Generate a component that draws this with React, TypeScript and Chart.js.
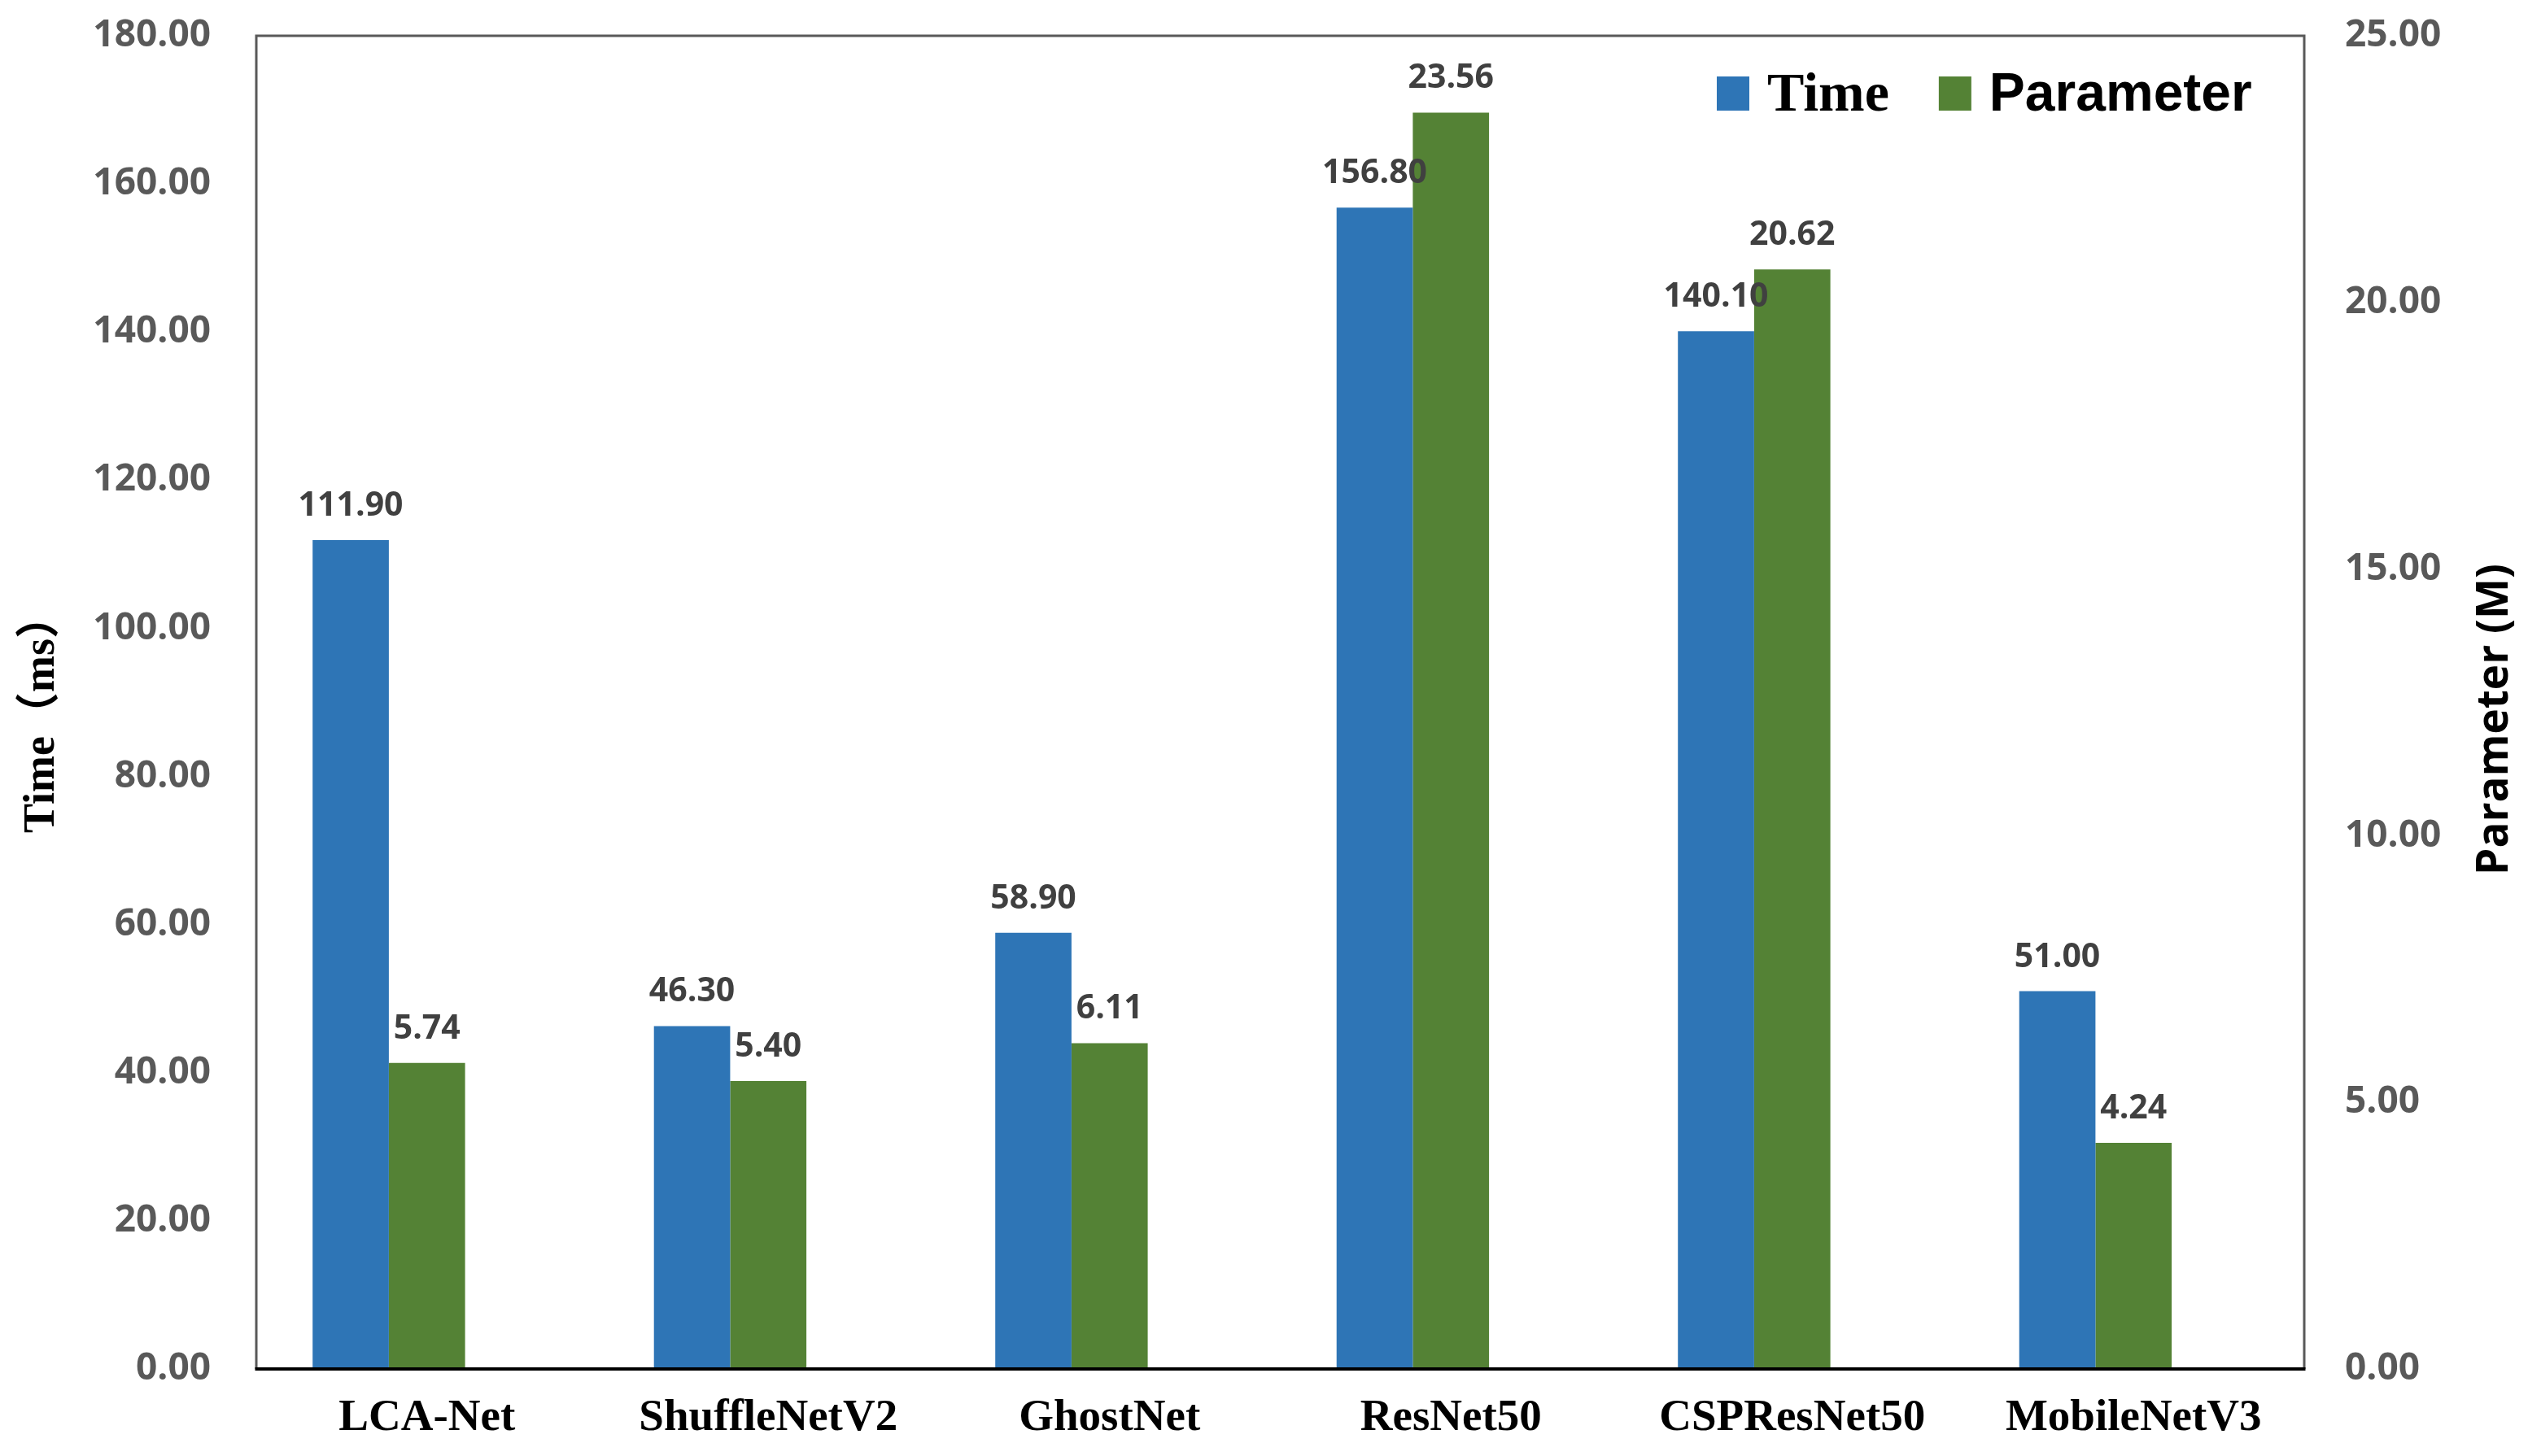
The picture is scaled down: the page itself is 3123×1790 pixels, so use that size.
import React, { useEffect, useRef } from 'react';
import { Chart, registerables } from 'chart.js';

Chart.register(...registerables);

const categories = ['LCA-Net', 'ShuffleNetV2', 'GhostNet', 'ResNet50', 'CSPResNet50', 'MobileNetV3'];
const timeValues = [111.9, 46.3, 58.9, 156.8, 140.1, 51.0];
const paramValues = [5.74, 5.4, 6.11, 23.56, 20.62, 4.24];
// the source chart reserves an empty third series slot in every group
const emptySeries = [null, null, null, null, null, null];
const seriesNames = ['Time', 'Parameter'];
const seriesColors = ['#2E75B6', '#548235'];
const timeAxisMax = 180;
const timeAxisStep = 20;
const paramAxisMax = 25;
const paramAxisStep = 5;
const leftTitle = 'Time（ms）';
const rightTitle = 'Parameter (M)';

const TICK_FONT = { family: '"Open Sans", "DejaVu Sans", sans-serif', size: 46, weight: 'bold' as const };
const LABEL_FONT = 'bold 41px "Open Sans", "DejaVu Sans", sans-serif';

export default function App() {
  const canvasRef = useRef<HTMLCanvasElement | null>(null);

  useEffect(() => {
    const canvas = canvasRef.current;
    if (!canvas) return;

    const frameAndLabels = {
      id: 'frameAndLabels',
      afterDatasetsDraw(chart: any) {
        const ctx = chart.ctx as CanvasRenderingContext2D;
        const { left, right, top, bottom } = chart.chartArea;
        ctx.save();
        // frame
        ctx.strokeStyle = '#595959';
        ctx.lineWidth = 3;
        ctx.beginPath();
        ctx.moveTo(left, bottom);
        ctx.lineTo(left, top);
        ctx.lineTo(right, top);
        ctx.lineTo(right, bottom);
        ctx.stroke();
        ctx.strokeStyle = '#000000';
        ctx.lineWidth = 4;
        ctx.beginPath();
        ctx.moveTo(left - 1.5, bottom);
        ctx.lineTo(right + 1.5, bottom);
        ctx.stroke();
        // data labels
        ctx.font = LABEL_FONT;
        ctx.fillStyle = '#404040';
        ctx.textAlign = 'center';
        ctx.textBaseline = 'alphabetic';
        chart.data.datasets.forEach((ds: any, i: number) => {
          if (!ds.label) return;
          const meta = chart.getDatasetMeta(i);
          meta.data.forEach((bar: any, j: number) => {
            const v = ds.data[j];
            if (v == null) return;
            ctx.fillText(Number(v).toFixed(2), bar.x, bar.y - 30);
          });
        });
        ctx.restore();
      },
      afterDraw(chart: any) {
        const ctx = chart.ctx as CanvasRenderingContext2D;
        const { left, right, top, bottom } = chart.chartArea;
        const midY = (top + bottom) / 2;
        ctx.save();
        // axis titles
        ctx.fillStyle = '#000000';
        ctx.textAlign = 'center';
        ctx.textBaseline = 'middle';
        ctx.save();
        ctx.translate(left - 263, midY + 14);
        ctx.rotate(-Math.PI / 2);
        ctx.font = 'bold 54px "Liberation Serif", "Noto Sans CJK SC", serif';
        ctx.fillText(leftTitle, 0, 0);
        ctx.restore();
        ctx.save();
        ctx.translate(right + 235, midY + 21);
        ctx.rotate(-Math.PI / 2);
        ctx.font = 'bold 53px "Open Sans", "DejaVu Sans", sans-serif';
        ctx.fillText(rightTitle, 0, 0);
        ctx.restore();
        // legend
        const fonts = [
          'bold 68px "Liberation Serif", "Times New Roman", serif',
          'bold 66px "Liberation Sans", Arial, sans-serif',
        ];
        let x = right - 722;
        const boxTop = top + 50;
        const boxW = 40;
        const boxH = 42;
        const baseline = top + 92;
        ctx.textAlign = 'left';
        ctx.textBaseline = 'alphabetic';
        chart.data.datasets.forEach((ds: any, i: number) => {
          if (!ds.label) return;
          ctx.fillStyle = ds.backgroundColor;
          ctx.fillRect(x, boxTop, boxW, boxH);
          x += boxW + 22;
          ctx.font = fonts[i];
          ctx.fillStyle = '#000000';
          ctx.fillText(ds.label, x, baseline);
          x += ctx.measureText(ds.label).width + 61;
        });
        ctx.restore();
      },
    };

    const chart = new Chart(canvas, {
      type: 'bar',
      data: {
        labels: categories,
        datasets: [
          {
            label: seriesNames[0],
            data: timeValues,
            backgroundColor: seriesColors[0],
            yAxisID: 'y',
            categoryPercentage: 0.67,
            barPercentage: 1,
          },
          {
            label: seriesNames[1],
            data: paramValues,
            backgroundColor: seriesColors[1],
            yAxisID: 'y1',
            categoryPercentage: 0.67,
            barPercentage: 1,
          },
          {
            label: '',
            data: emptySeries,
            backgroundColor: 'rgba(0,0,0,0)',
            yAxisID: 'y',
            categoryPercentage: 0.67,
            barPercentage: 1,
          },
        ],
      },
      options: {
        responsive: false,
        animation: false,
        devicePixelRatio: 1,
        layout: { padding: { top: 44, left: 0, right: 0, bottom: 0 } },
        plugins: {
          legend: { display: false },
          tooltip: { enabled: false },
          title: { display: false },
        },
        scales: {
          x: {
            grid: { display: false, drawTicks: false },
            border: { display: false },
            ticks: {
              color: '#000000',
              padding: 28,
              font: { family: '"Liberation Serif", "Times New Roman", serif', size: 55, weight: 'bold' },
              maxRotation: 0,
              autoSkip: false,
            },
            afterFit(scale: any) {
              scale.height = 107;
            },
          },
          y: {
            position: 'left',
            min: 0,
            max: timeAxisMax,
            grid: { display: false, drawTicks: false },
            border: { display: false },
            ticks: {
              stepSize: timeAxisStep,
              color: '#595959',
              padding: 56,
              font: TICK_FONT,
              callback: (v: any) => Number(v).toFixed(2),
            },
            afterFit(scale: any) {
              scale.width = 315;
              scale.paddingTop = 0;
              scale.paddingBottom = 0;
            },
          },
          y1: {
            position: 'right',
            min: 0,
            max: paramAxisMax,
            grid: { display: false, drawTicks: false },
            border: { display: false },
            ticks: {
              stepSize: paramAxisStep,
              color: '#595959',
              padding: 50,
              font: TICK_FONT,
              callback: (v: any) => Number(v).toFixed(2),
            },
            afterFit(scale: any) {
              scale.width = 291;
              scale.paddingTop = 0;
              scale.paddingBottom = 0;
            },
          },
        },
      },
      plugins: [frameAndLabels],
    } as any);

    return () => {
      chart.destroy();
    };
  }, []);

  return (
    <div style={{ position: 'fixed', left: 0, top: 0, width: 3123, height: 1790, background: '#ffffff' }}>
      <canvas ref={canvasRef} width={3123} height={1790} style={{ display: 'block' }} />
    </div>
  );
}
